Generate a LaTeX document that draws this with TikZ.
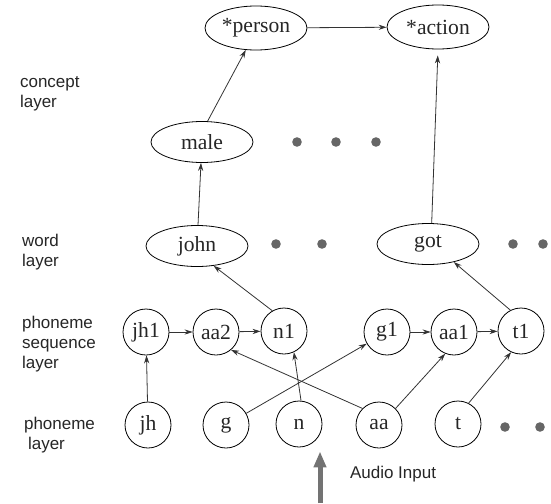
\documentclass[tikz,border=0pt]{standalone}
\usepackage{fontspec}
\setmainfont{Liberation Serif}
\setsansfont{Liberation Sans}
\usetikzlibrary{shapes.geometric,arrows.meta}

\begin{document}
\begin{tikzpicture}[x=0.5pt, y=-0.5pt,
    font=\fontsize{10.8}{12}\selectfont, text=black!85,
    concept/.style={ellipse, draw, minimum width=51pt, minimum height=22pt, inner sep=0pt},
    word/.style={ellipse, draw, minimum width=51pt, minimum height=20.5pt, inner sep=0pt},
    phone/.style={circle, draw, minimum size=23pt, inner sep=0pt},
    layer/.style={font=\sffamily\fontsize{8.5}{10}\selectfont, align=left, anchor=west},
    link/.style={-{Stealth[length=4pt,width=2.6pt]}, draw=black!80, line width=0.4pt},
    more/.style={circle, fill=black!60, inner sep=0pt, minimum size=4.8pt}
   ]
  \useasboundingbox (0,0) rectangle (551,503);
  % layer names
  \node[layer] (lconcept) at (13,94) {concept\\layer};
  \node[layer] (lword) at (15,252) {word\\layer};
  \node[layer] (lseq) at (15,344) {phoneme\\sequence\\layer};
  \node[layer] (lphone) at (17,435) {phoneme\\\hspace*{2pt}layer};
  % concept layer
  \node[concept] (person) at (256,28) {*person};
  \node[concept] (action) at (438,27) {*action};
  \node[word] (male) at (202,142) {male};
  \node[more] (m1) at (297,142) {};
  \node[more] (m2) at (336,142) {};
  \node[more] (m3) at (376,142) {};
  % word layer
  \node[word] (john) at (197,246) {john};
  \node[word] (got) at (428,244) {got};
  \node[more] (w1) at (276,244) {};
  \node[more] (w2) at (322,244) {};
  \node[more] (w3) at (513,244) {};
  \node[more] (w4) at (543,244) {};
  % phoneme sequence layer
  \node[phone] (jh1) at (146,332) {jh1};
  \node[phone] (aa2) at (216,332) {aa2};
  \node[phone] (n1) at (284,331) {n1};
  \node[phone] (g1) at (387,332) {g1};
  \node[phone] (aa1) at (454,332) {aa1};
  \node[phone] (t1) at (521,331) {t1};
  % phoneme layer
  \node[phone] (jh) at (148,425) {jh};
  \node[phone] (g) at (226,425) {g};
  \node[phone] (n) at (299,424) {n};
  \node[phone] (aa) at (379,425) {aa};
  \node[phone] (t) at (458,424) {t};
  \node[more] (p1) at (505,427) {};
  \node[more] (p2) at (540,427) {};
  % audio
  \coordinate (audio) at (320,503);
  \node[font=\sffamily\fontsize{8.5}{10}\selectfont, anchor=west] (ltext) at (343,474) {Audio Input};

  \draw[link] (person) -- (action);
  \draw[link] (male.75) -- (person.-115);
  \draw[link] (john) -- (male);
  \draw[link, shorten >=3pt] (got.80) -- (action.-90);
  \draw[link] (n1.120) -- (john.-50);
  \draw[link] (t1.117) -- (got.-35);
  \draw[link] (jh1) -- (aa2);
  \draw[link] (aa2) -- (n1);
  \draw[link] (g1) -- (aa1);
  \draw[link] (aa1) -- (t1);
  \draw[link] (jh) -- (jh1);
  \draw[link] (g) -- (g1);
  \draw[link] (n.85) -- (n1.-65);
  \draw[link] (aa.135) -- (aa2.-50);
  \draw[link] (aa.45) -- (aa1.-112);
  \draw[link] (t.63) -- (t1.-115);
  \draw[-{Triangle[length=8pt,width=6pt]}, line width=2.5pt, draw=black!55] (audio) -- ([yshift=-2pt]n.south -| audio);
\end{tikzpicture}
\end{document}
